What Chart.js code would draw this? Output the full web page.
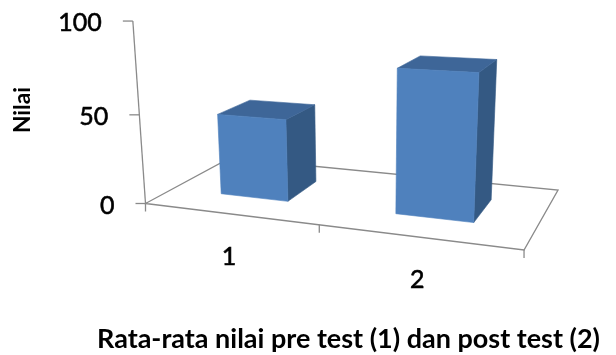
<!DOCTYPE html>
<html>
<head>
<meta charset="utf-8">
<script src="https://cdn.jsdelivr.net/npm/chart.js@4.4.0/dist/chart.umd.min.js"></script>
<style>
  html, body { margin: 0; padding: 0; background: #ffffff; }
  #wrap { width: 616px; height: 355px; }
  canvas { display: block; }
</style>
</head>
<body>
<div id="wrap"><canvas id="chart" width="616" height="355"></canvas></div>
<script>
// Mean scores: pre test (1) and post test (2)
const categories = ['1', '2'];
const nilai = [46, 77];
const valueTicks = [0, 50, 100];
const valueTitle = 'Nilai';
const categoryTitle = 'Rata-rata nilai pre test (1) dan post test (2)';

// Perspective camera: world X (across categories, 0..1), Y (value, 0..1), Z (depth, 0..1)
const CAM = { a: 299.3, b: 123.5, c: 145.5, d: 8.7, e: -18.7, f: 203.5,
              g: -0.1512, h: 0.1696, p: -19.9, q: -183.6, r: -0.05454 };
function project(X, Y, Z) {
  const w = CAM.g * X + CAM.r * Y + CAM.h * Z + 1;
  return [(CAM.a * X + CAM.p * Y + CAM.b * Z + CAM.c) / w,
          (CAM.d * X + CAM.q * Y + CAM.e * Z + CAM.f) / w];
}

// Depth slab occupied by the columns
const DEPTH_FRONT = 0.3, DEPTH_BACK = 0.7;

const FONT = 'Lato, "Open Sans", sans-serif';
const AXIS_COLOR = '#8a8a8a';
const FACE_FRONT = '#4f81bd';
const FACE_TOP = '#3e6698';
const FACE_SIDE = '#345983';

function poly(ctx, pts, fill) {
  ctx.beginPath();
  pts.forEach((pt, i) => { const s = project(pt[0], pt[1], pt[2]); i ? ctx.lineTo(s[0], s[1]) : ctx.moveTo(s[0], s[1]); });
  ctx.closePath();
  ctx.fillStyle = fill;
  ctx.fill();
  ctx.strokeStyle = fill;
  ctx.lineWidth = 0.6;
  ctx.stroke();
}

function line(ctx, p0, p1) {
  ctx.beginPath();
  ctx.moveTo(p0[0], p0[1]);
  ctx.lineTo(p1[0], p1[1]);
  ctx.stroke();
}

function fittedText(ctx, text, cx, baseline, width, size, rotate) {
  ctx.save();
  ctx.font = 'bold ' + size + 'px ' + FONT;
  const w = ctx.measureText(text).width;
  ctx.translate(cx, baseline);
  if (rotate) ctx.rotate(-Math.PI / 2);
  ctx.scale(width / w, 1);
  ctx.textAlign = 'center';
  ctx.textBaseline = 'middle';
  ctx.fillText(text, 0, 0);
  ctx.restore();
}

function tickText(ctx, text, x, y) {
  ctx.fillText(text, x, y);
  ctx.strokeText(text, x, y);
}

const column3d = {
  id: 'column3d',
  beforeDatasetsDraw() { return false; },
  afterDraw(chart) {
    const ctx = chart.ctx;
    const area = chart.chartArea;
    const xs = chart.scales.x, ys = chart.scales.y;
    const nx = px => (px - area.left) / area.width;
    const ny = py => (ys.getPixelForValue(ys.min) - py) / (ys.getPixelForValue(ys.min) - ys.getPixelForValue(ys.max));

    ctx.save();
    // Floor outline
    ctx.strokeStyle = AXIS_COLOR;
    ctx.lineWidth = 1.3;
    ctx.beginPath();
    [[0, 0, 0], [1, 0, 0], [1, 0, 1], [0, 0, 1]].forEach((pt, i) => {
      const s = project(pt[0], pt[1], pt[2]);
      i ? ctx.lineTo(s[0], s[1]) : ctx.moveTo(s[0], s[1]);
    });
    ctx.closePath();
    ctx.stroke();

    // Value axis and its tick marks
    line(ctx, project(0, 0, 0), project(0, 1, 0));
    valueTicks.forEach(t => {
      const s = project(0, ny(ys.getPixelForValue(t)), 0);
      line(ctx, [s[0] - 10, s[1]], s);
    });

    // Category boundaries along the front edge
    const step = xs.getPixelForValue(1) - xs.getPixelForValue(0);
    const bounds = [xs.getPixelForValue(0) - step / 2];
    categories.forEach((_, i) => bounds.push(xs.getPixelForValue(i) + step / 2));
    bounds.forEach(b => {
      const s = project(nx(b), 0, 0);
      line(ctx, s, [s[0], s[1] + 8]);
    });

    // Columns
    const meta = chart.getDatasetMeta(0);
    meta.data.forEach(bar => {
      const xl = nx(bar.x - bar.width / 2), xr = nx(bar.x + bar.width / 2);
      const yt = ny(bar.y);
      const zf = DEPTH_FRONT, zb = DEPTH_BACK;
      poly(ctx, [[xr, 0, zf], [xr, 0, zb], [xr, yt, zb], [xr, yt, zf]], FACE_SIDE);
      poly(ctx, [[xl, yt, zf], [xr, yt, zf], [xr, yt, zb], [xl, yt, zb]], FACE_TOP);
      poly(ctx, [[xl, 0, zf], [xr, 0, zf], [xr, yt, zf], [xl, yt, zf]], FACE_FRONT);
    });

    // Tick labels
    ctx.fillStyle = '#000000';
    ctx.strokeStyle = '#000000';
    ctx.lineWidth = 0.6;
    ctx.font = '25px ' + FONT;
    ctx.textAlign = 'right';
    ctx.textBaseline = 'middle';
    valueTicks.forEach(t => {
      const s = project(0, ny(ys.getPixelForValue(t)), 0);
      tickText(ctx, String(t), s[0] - 31, s[1] + 2);
    });
    ctx.textAlign = 'center';
    categories.forEach((lab, i) => {
      const s = project(nx(xs.getPixelForValue(i)), 0, 0);
      tickText(ctx, lab, s[0], s[1] + 43);
    });

    // Axis titles
    ctx.fillStyle = '#000000';
    fittedText(ctx, valueTitle, 23, 110, 46, 22, true);
    fittedText(ctx, categoryTitle, 348.5, 339, 503, 27, false);
    ctx.restore();
  }
};

new Chart(document.getElementById('chart'), {
  type: 'bar',
  data: {
    labels: categories,
    datasets: [{ data: nilai, backgroundColor: FACE_FRONT, barPercentage: 0.4, categoryPercentage: 1.0 }]
  },
  options: {
    responsive: false,
    animation: false,
    devicePixelRatio: 1,
    layout: { padding: 0 },
    plugins: { legend: { display: false }, tooltip: { enabled: false }, title: { display: false } },
    scales: {
      x: { type: 'category', offset: true, display: false },
      y: { type: 'linear', min: 0, max: 100, display: false, ticks: { stepSize: 50 } }
    }
  },
  plugins: [column3d]
});
</script>
</body>
</html>
